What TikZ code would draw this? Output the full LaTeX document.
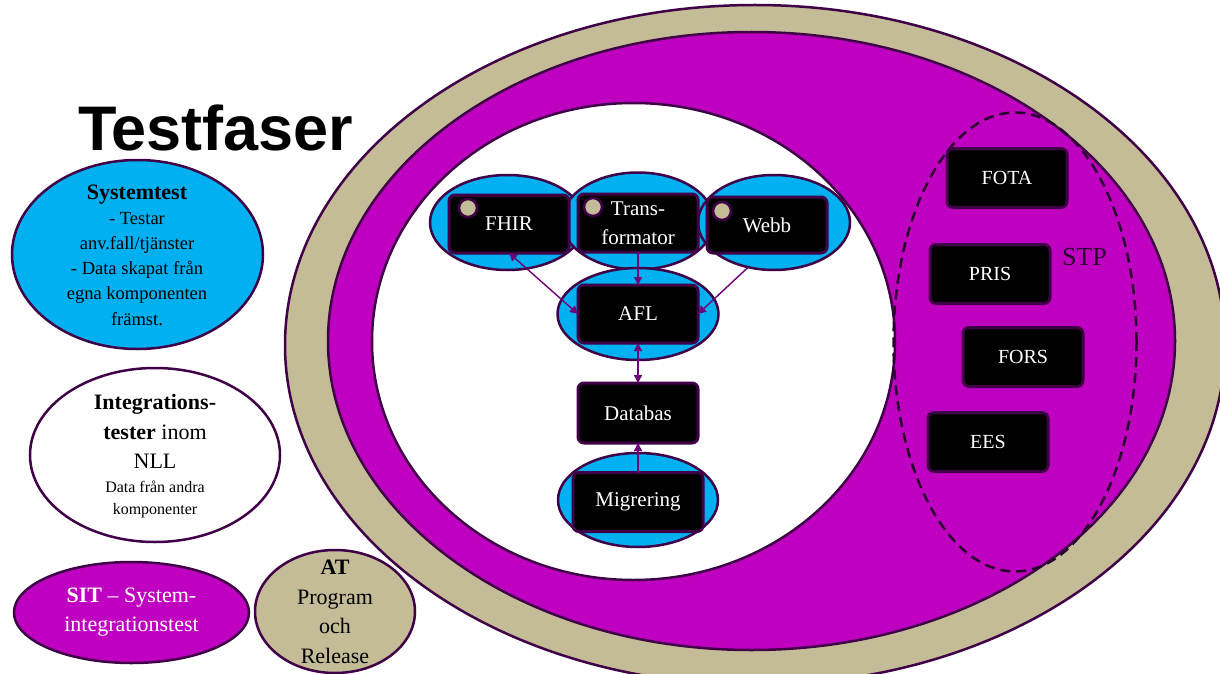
\documentclass[tikz,border=0pt]{standalone}
\usepackage{fontspec}
\setmainfont{Liberation Serif}
\newfontfamily\titlefont{Liberation Sans}
\usetikzlibrary{shapes.geometric,arrows.meta}
\definecolor{tanc}{RGB}{196,188,150}
\definecolor{magc}{RGB}{192,0,192}
\definecolor{cyanc}{RGB}{0,176,240}
\definecolor{bord}{RGB}{64,0,72}
\definecolor{stpc}{RGB}{40,0,45}
\definecolor{arrc}{RGB}{110,0,120}
\begin{document}
\begin{tikzpicture}[x=1pt,y=-1pt,
  every node/.style={inner sep=0pt,outer sep=0pt},
  bigell/.style={ellipse,draw=bord,line width=2.5pt},
  blueell/.style={ellipse,draw=bord,fill=cyanc,line width=2.5pt},
  darkbox/.style={rectangle,rounded corners=6pt,fill=black,draw=bord,line width=3pt,text=white,font=\fontsize{21}{29}\selectfont,align=center,minimum width=120pt,minimum height=58pt},
  rightbox/.style={darkbox,font=\fontsize{20}{24}\selectfont,minimum height=59pt},
  smalldot/.style={circle,fill=tanc,draw=bord,line width=2.5pt,minimum size=18pt},
  conn/.style={draw=arrc,line width=1.4pt},
  arrend/.style={-{Triangle[length=8pt,width=8pt]}},
  arrboth/.style={{Triangle[length=8pt,width=8pt]}-{Triangle[length=8pt,width=8pt]}},
  legtext/.style={align=center,text=black}
  ]
\useasboundingbox (0,0) rectangle (1220,674);
\fill[white] (0,0) rectangle (1220,674);

% big rings
\node[bigell,fill=tanc,minimum width=940pt,minimum height=680pt] (outer) at (755,345) {};
\node[bigell,fill=magc,minimum width=847pt,minimum height=618pt] (mag) at (751.5,341) {};
\node[bigell,fill=white,minimum width=523pt,minimum height=477pt] (inner) at (633.5,341.5) {};
\node[ellipse,draw=stpc,dash pattern=on 10pt off 6pt,line width=2.5pt,minimum width=243pt,minimum height=459pt] (stp) at (1015,342) {};
\node[anchor=base west,font=\fontsize{26}{26}\selectfont,text=stpc] (stplabel) at (1062,265) {STP};

% blue ellipses
\node[blueell,minimum width=155pt,minimum height=95pt] (fhirell) at (507.5,222.5) {};
\node[blueell,minimum width=152pt,minimum height=97pt] (transell) at (638,221) {};
\node[blueell,minimum width=152pt,minimum height=95pt] (webbell) at (774,222.5) {};
\node[blueell,minimum width=161pt,minimum height=92pt] (aflell) at (638,314) {};
\node[blueell,minimum width=160pt,minimum height=94pt] (migell) at (638,500) {};

% boxes
\node[darkbox] (fhir) at (509,224) {FHIR};
\node[darkbox] (trans) at (638,223) {Trans-\\formator};
\node[darkbox,minimum height=56pt] (webb) at (767,225) {Webb};
\node[darkbox] (afl) at (638,314) {AFL};
\node[darkbox,minimum height=60pt] (db) at (638,413) {Databas};
\node[darkbox,minimum width=130pt,minimum height=59pt] (mig) at (638,502) {Migrering};

% connectors
\draw[conn,arrboth] (fhir.south) -- (afl.west);
\draw[conn,arrend] (webbell.240) -- (afl.east);
\draw[conn,arrend] (trans.south) -- (afl.north);
\draw[conn,arrboth] (afl.south) -- (db.north);
\draw[conn,arrend] (mig.north) -- (db.south);

% small dots
\node[smalldot] (d1) at (468,208) {};
\node[smalldot] (d2) at (593,207) {};
\node[smalldot] (d3) at (722,211) {};

% right boxes
\node[rightbox] (fota) at (1007,178) {FOTA};
\node[rightbox] (pris) at (990,274) {PRIS};
\node[rightbox] (fors) at (1023,357) {FORS};
\node[rightbox] (ees) at (988,442) {EES};

% title
\node[anchor=base west,font=\titlefont\bfseries\fontsize{63}{63}\selectfont] (title) at (78,150) {Testfaser};

% legend
\node[bigell,fill=cyanc,minimum width=251pt,minimum height=189pt] (sysell) at (137.5,254.5) {};
\node[legtext,font=\fontsize{18.5}{25.2}\selectfont] (systxt) at (137,255)
  {{\fontsize{22}{25.2}\selectfont\bfseries Systemtest}\\- Testar\\anv.fall/tjänster\\- Data skapat från\\egna komponenten\\främst.};

\node[bigell,fill=white,minimum width=250pt,minimum height=174pt] (intell) at (155,455) {};
\node[legtext,font=\fontsize{22}{29.5}\selectfont] (inttxt) at (155,431.5)
  {\textbf{Integrations-}\\\textbf{tester} inom\\NLL};
\node[legtext,font=\fontsize{16}{22}\selectfont] (inttxt2) at (155,499)
  {Data från andra\\komponenter};

\node[bigell,fill=magc,minimum width=235pt,minimum height=101pt] (sitell) at (131.5,612.5) {};
\node[legtext,text=white,font=\fontsize{22}{29.5}\selectfont] (sittxt) at (131.5,612)
  {\textbf{SIT} -- System-\\integrationstest};

\node[bigell,fill=tanc,minimum width=160pt,minimum height=123pt] (atell) at (335,611.5) {};
\node[legtext,font=\fontsize{22}{29.5}\selectfont] (attxt) at (335,612)
  {\textbf{AT}\\Program\\och\\Release};
\end{tikzpicture}
\end{document}
